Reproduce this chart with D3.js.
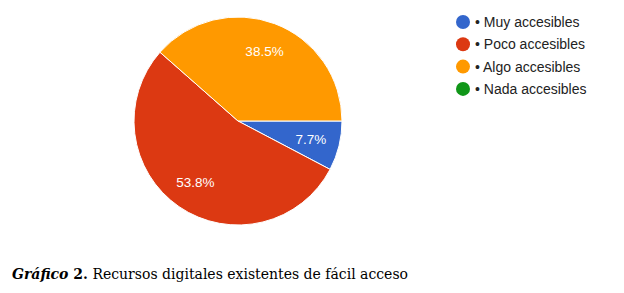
<!DOCTYPE html>
<html>
<head>
<meta charset="utf-8">
<script src="https://cdn.jsdelivr.net/npm/d3@7"></script>
<style>
  body { margin: 0; background: #fff; }
</style>
</head>
<body>
<div id="chart"></div>
<script>
// Data
const categories = ["Muy accesibles", "Poco accesibles", "Algo accesibles", "Nada accesibles"];
const values = [7.7, 53.8, 38.5, 0];
const colors = ["#3366cc", "#dc3912", "#ff9900", "#109618"];

const width = 624, height = 293;
const cx = 238, cy = 121, radius = 104;

const svg = d3.select("#chart").append("svg")
    .attr("width", width)
    .attr("height", height);

const data = categories.map((c, i) => ({ name: c, value: values[i], color: colors[i] }));

// start at 3 o'clock, clockwise
const pie = d3.pie()
    .sort(null)
    .value(d => d.value)
    .startAngle(Math.PI / 2)
    .endAngle(Math.PI / 2 + 2 * Math.PI);

const arc = d3.arc().innerRadius(0).outerRadius(radius);
const labelArc = d3.arc().innerRadius(75).outerRadius(75);

const g = svg.append("g").attr("transform", `translate(${cx},${cy})`);

const arcs = pie(data).filter(d => d.data.value > 0);

g.selectAll("path.slice")
    .data(arcs)
    .enter().append("path")
    .attr("class", "slice")
    .attr("d", arc)
    .attr("fill", d => d.data.color)
    .attr("stroke", "#fff")
    .attr("stroke-width", 1);

g.selectAll("text.pct")
    .data(arcs)
    .enter().append("text")
    .attr("class", "pct")
    .attr("transform", d => `translate(${labelArc.centroid(d)})`)
    .attr("dy", "0.35em")
    .attr("text-anchor", "middle")
    .attr("font-family", "Arial, 'Liberation Sans', sans-serif")
    .attr("font-size", 13.5)
    .attr("fill", "#fff")
    .text(d => d.data.value.toFixed(1) + "%");

// Legend
const legend = svg.append("g").attr("transform", "translate(463,22)");

const item = legend.selectAll("g.item")
    .data(data)
    .enter().append("g")
    .attr("class", "item")
    .attr("transform", (d, i) => `translate(0,${i * 22.3})`);

item.append("circle")
    .attr("r", 7)
    .attr("fill", d => d.color);

item.append("text")
    .attr("x", 12)
    .attr("dy", "0.35em")
    .attr("font-family", "Arial, 'Liberation Sans', sans-serif")
    .attr("font-size", 14)
    .attr("fill", "#222")
    .text(d => "\u2022 " + d.name);

// Caption
const caption = svg.append("text")
    .attr("x", 12)
    .attr("y", 279)
    .attr("font-family", "'DejaVu Serif', serif")
    .attr("font-size", 14)
    .attr("fill", "#000");

caption.append("tspan")
    .attr("font-weight", "bold")
    .attr("font-style", "italic")
    .text("Gráfico");
caption.append("tspan")
    .attr("font-weight", "bold")
    .text(" 2.");
caption.append("tspan")
    .text(" Recursos digitales existentes de fácil acceso");
</script>
</body>
</html>
